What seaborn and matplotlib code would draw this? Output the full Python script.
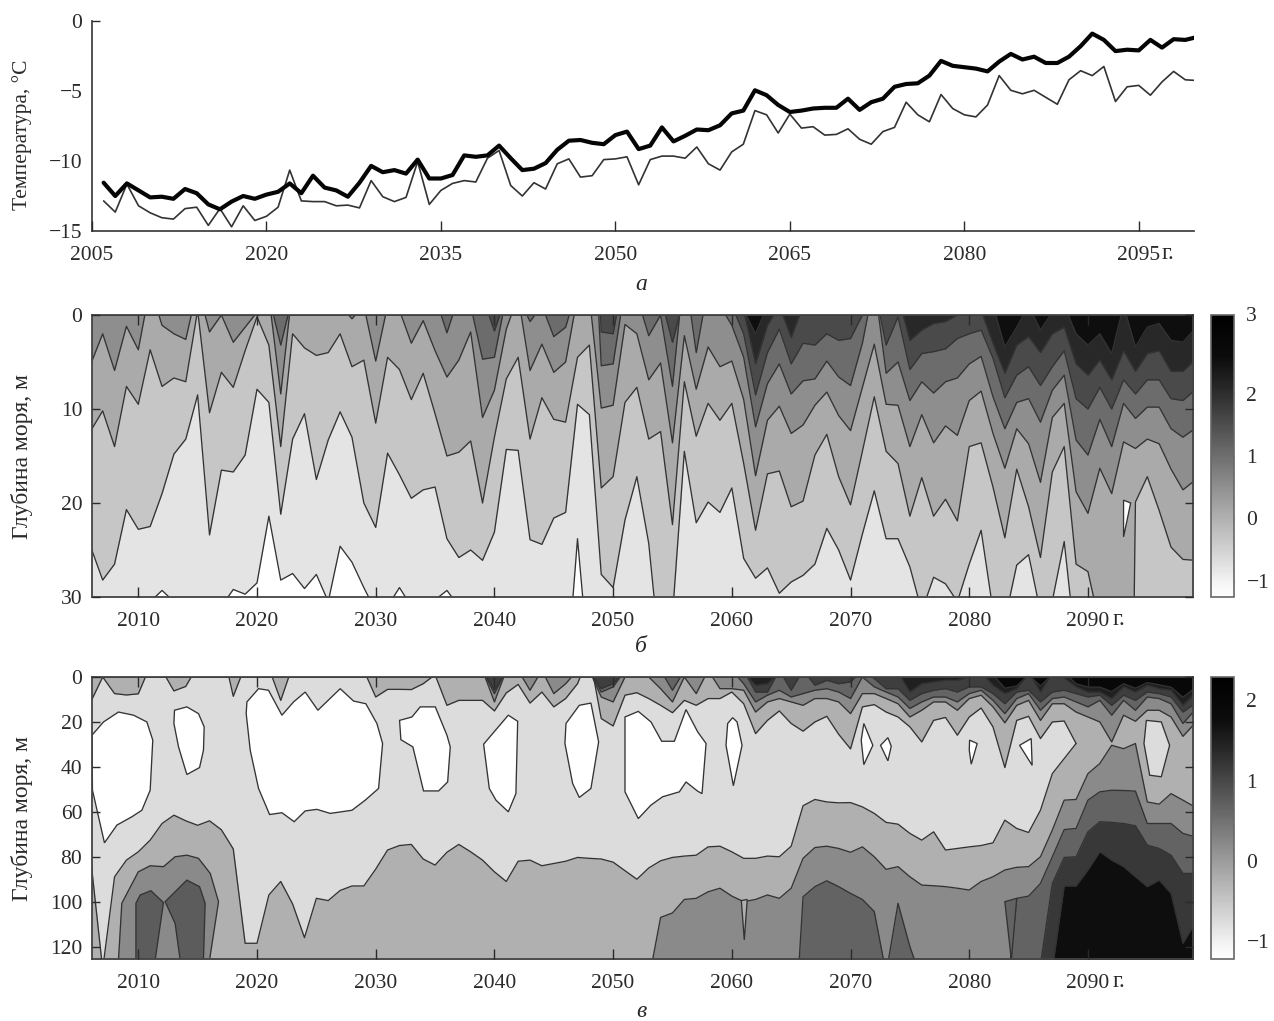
import numpy as np
import matplotlib
matplotlib.use("Agg")
import matplotlib.pyplot as plt
from matplotlib.cm import ScalarMappable
from matplotlib.colors import LinearSegmentedColormap, Normalize
import seaborn as sns

# ---------- panel a: temperature ----------
temp_years = list(range(2006, 2101))
temp_thick = [-11.55, -12.5, -11.6, -12.1,
    -12.6, -12.55, -12.7, -12.0, -12.3, -13.1, -13.45, -12.9, -12.5, -12.7,
    -12.4, -12.2, -11.6, -12.3, -11.05, -11.9, -12.1, -12.55, -11.55, -10.35,
    -10.8, -10.65, -10.9, -9.9, -11.25, -11.25, -11.0, -9.6, -9.7, -9.6,
    -8.9, -9.8, -10.65, -10.55, -10.15, -9.2, -8.55, -8.5, -8.7, -8.8,
    -8.15, -7.9, -9.15, -8.9, -7.6, -8.6, -8.2, -7.75, -7.8, -7.45,
    -6.6, -6.4, -4.95, -5.3, -6.0, -6.5, -6.4, -6.25, -6.2, -6.2,
    -5.55, -6.35, -5.8, -5.55, -4.7, -4.5, -4.45, -3.9, -2.85, -3.2,
    -3.3, -3.4, -3.6, -2.9, -2.35, -2.75, -2.55, -3.0, -3.0, -2.55,
    -1.8, -0.9, -1.35, -2.15, -2.05, -2.1, -1.35, -1.9, -1.3, -1.35, -1.15]
temp_thin = [-12.85, -13.65, -11.65, -13.2,
    -13.7, -14.05, -14.15, -13.4, -13.3, -14.6, -13.4, -14.7, -13.2, -14.25,
    -13.95, -13.3, -10.65, -12.85, -12.9, -12.9, -13.2, -13.15, -13.35, -11.4,
    -12.55, -12.9, -12.6, -10.05, -13.1, -12.1, -11.6, -11.4, -11.5, -9.8,
    -9.25, -11.75, -12.5, -11.55, -12.0, -10.2, -9.85, -11.15, -11.05, -9.9,
    -9.85, -9.7, -11.7, -9.9, -9.65, -9.65, -9.8, -9.0, -10.2, -10.65,
    -9.35, -8.8, -6.4, -6.7, -8.0, -6.65, -7.65, -7.55, -8.15, -8.1,
    -7.7, -8.45, -8.8, -7.9, -7.6, -5.8, -6.7, -7.2, -5.25, -6.25,
    -6.7, -6.85, -6.0, -3.9, -4.95, -5.2, -4.95, -5.45, -5.95, -4.2,
    -3.55, -3.9, -3.25, -5.75, -4.7, -4.6, -5.3, -4.35, -3.6, -4.2, -4.25]

# ---------- panel b: isotherm depths (m), 2006-2099 ----------
depth_years = list(range(2006, 2100))
b_l1 = [31, 31, 31, 31,
    31, 30.5, 29.3, 30.5, 31, 31, 31, 31, 29.2, 29.7,
    28.5, 21.4, 28.2, 27.5, 29.1, 27.6, 30.5, 24.6, 26.3, 29,
    31.5, 31, 29, 31, 31, 30.3, 29.3, 31, 31, 31,
    31, 31, 31, 31, 31, 31, 40, 23.8, 38, 31,
    31, 31, 31, 31, 31, 31, 31, 31, 31, 31,
    31, 31, 31, 31, 31, 31, 31, 31, 31, 31,
    31, 31, 31, 31, 31, 31, 31, 31, 31, 31,
    31, 31, 31, 31, 31, 31, 31, 31, 31, 31,
    31, 31, 31, 31, 31, 29.4, 31, 31, 31, 31]
b_l2 = [24.7, 28.2, 26.5, 20.7,
    22.8, 22.5, 19, 14.8, 13.2, 8.5, 23.4, 16.5, 16.7, 14.9,
    7.9, 9.3, 21.2, 13.2, 10.5, 17.5, 13.3, 10.3, 13, 20,
    22.6, 14.7, 17, 19.5, 18.6, 18.3, 23.8, 25.8, 25, 26.1,
    23.1, 14.3, 14.4, 23.9, 24.4, 21.6, 21, 9.5, 10.6, 27.6,
    29, 21.8, 17.2, 24.3, 37, 32, 14.5, 22.1, 19.9, 21,
    18.4, 25.9, 28, 26.9, 29.6, 28.4, 27.7, 26.5, 22.7, 25,
    28.2, 23.3, 18.7, 23.8, 23.8, 26.8, 31.5, 27.9, 28.6, 30.5,
    26.5, 22.9, 31.4, 32.5, 26.6, 25.5, 31.6, 30.4, 24.1, 35.7,
    36, 36, 36, 36, 36, 36, 36, 36, 36, 36]
b_l3 = [12.3, 10.2, 14, 7.6,
    9.5, 3.7, 7.6, 6.7, 7.1, -0.5, 10.4, 6.1, 7.7, 3.8,
    0.2, 3.2, 14, 2, 3.5, 4.3, 4, 2, 5.5, 4.8,
    11.5, 4.5, 5.8, 9, 6.2, 10.5, 15, 14.6, 13.4, 20,
    13, 6.8, 4.5, 13.2, 8.8, 11.1, 11.4, 4.5, 3.2, 18.4,
    17.2, 9.3, 7.7, 13.2, 12.4, 22.3, 7.1, 12.9, 9.4, 11.2,
    9.4, 15.8, 22.9, 16.9, 16.6, 20.4, 19.8, 14.9, 12.7, 17.2,
    20.2, 14.5, 8.7, 14.5, 15.8, 21.4, 17.3, 21.4, 19.6, 21.9,
    14, 13.6, 18.3, 23.7, 16.4, 20.4, 25.8, 16.7, 14, 26.5,
    27.3, 33, 33, 120, 19.9, 17.2, 20.8, 24.7, 26, 26.1]
b_l4 = [5.2, 2, 5.9, 1.2,
    3.7, -3, 1.1, 2, 2.6, -3, 1.8, 0, 2.9, 1.3,
    -0.3, -2, 8.4, -3, -3, -3, -3, -1, 0.4, -1,
    4.9, -1, -0.5, 3, 0.6, 3.8, 6.6, 4.8, 1.8, 10.9,
    8, 1.5, -2, 5.9, 3.1, 6.1, 5, -2, -2, 9.9,
    9.6, 1, 2, 6.9, 5.1, 13.6, 2.2, 7.9, 3.4, 5.5,
    4.9, 9, 17.1, 11.2, 9.7, 12.6, 11.7, 9.6, 8.2, 10.7,
    12.3, 7.7, 3.1, 9.5, 9.6, 14, 10.6, 13.6, 11.8, 12.8,
    9.1, 8.1, 12.6, 16.3, 12.1, 13.7, 17.8, 10.9, 9.4, 18.8,
    21.1, 16.3, 19, 13.5, 14.2, 13.2, 13.7, 16.4, 18.6, 17.6]
b_l5 = [-2] * 14 + [-2, -2, 3.2, -2, -2, -2, -2, -2, -2, -2,
    -2, -2, -2, -2, -2, -2, 1.9, -2, -1, 4.7,
    4.5, -2, -2, 0.7, -1, 2.3, 1.3, -3, -20, 5.4,
    5.2, -3, -2, 2.2, 0, 7.6, -5, 4, -3, -1,
    1.1, 4.5, 11.9, 7.3, 5.2, 8.4, 7, 6.8, 4.9, 6.6,
    7.5, 3, -3.5, 6.2, 5, 9.1, 7.1, 8.3, 7.1, 6.7,
    5.2, 4.4, 8.7, 12.1, 9.3, 8.9, 11.4, 8, 6.4, 13.3,
    14.9, 11.1, 14, 9.4, 11, 9.8, 9.8, 12.1, 13, 12.1]
b_l6 = [-2] * 34 + [1.7, -2, -2, -2, -2, -2, -2, -2, -30, 1.8,
    2, -5, -2, -2, -2, 2.9, -2, -2, -2, -2,
    -1, 2, 8.5, 4, 1.5, 5.2, 3, 3.2, 2, 2.7,
    2.5, 0, -3, 3.2, 0.2, 5.8, 4.1, 3.9, 3.6, 2.5,
    2, 1.6, 4.6, 8.8, 6.4, 5.5, 7.5, 5.5, 3.8, 8.9,
    10, 7.7, 10, 6.9, 8.4, 6.9, 6.9, 8.9, 9.1, 8]
b_l7 = [-2] * 54 + [-2, -0.5, 5.2, 1.1, -1, 2.4, -1, -2, -2, -2,
    -2, -2, -2, -2, -2, 2.7, 1.6, 0.9, 0.7, 0,
    -0.5, -0.5, 3, 6.2, 3.2, 2.3, 4, 2, 1.3, 5.2,
    6.4, 4.8, 6.9, 3.8, 6, 4.1, 3.8, 6, 6, 4.8]
b_l8 = [-2] * 54 + [-2, -0.5, 2, -1, -2, -2, -2, -2, -2, -2,
    -2, -2, -2, -2, -2, -2, -2, -2, -2, -2,
    -3, -1, -1, 3.4, 1.3, -1, 1.6, -0.3, -1, 2,
    3.2, 2, 4.1, -1, 3.4, 1.3, 0.9, 2.7, 2.9, 1.5]
b_levels = [b_l1, b_l2, b_l3, b_l4, b_l5, b_l6, b_l7, b_l8]
b_grays = ['#e4e4e4', '#c6c6c6', '#aaaaaa', '#8e8e8e', '#6c6c6c', '#4a4a4a', '#282828', '#0e0e0e']
b_isle_years = [2093, 2093.6, 2093]
b_isle_depths = [19.7, 20, 23.6]

# ---------- panel c: isotherm depths (m) ----------
c_u1_years = list(range(2006, 2090))
c_u1 = [11, 0, 7.4, 8,
    7.5, -5, -3, 6.2, 4.2, -5, -5, -15, 8.6, -5,
    -5, -4, 10.4, -5, -5, -5, -5, -5, -5, -3,
    8.9, 5.5, 5.5, 5.6, 3, -1, 12.6, 10.4, 10.4, 10.4,
    15.1, 7.1, 3.3, 11.6, 6.7, 13.3, 9.6, 3, -10, 18.5,
    21.8, 8.1, 7, 9.6, 12.6, 15.9, 10.4, 12.6, 9.6, 9.6,
    6.7, 11.9, 25.2, 19.3, 15.1, 20.7, 24.1, 20, 17.5, 25.5,
    32, 13.3, 12.3, 15.6, 17.8, 22.2, 28.9, 19.3, 18, 25.9,
    17.8, 13.8, 22.2, 40.3, 19.3, 17.5, 27.4, 20, 19.6, 29.6]
c_b1 = [81.5, 130, 88.9, 81.5,
    77.8, 72.6, 65.2, 61.5, 64, 66, 64, 68, 76.5, 118.5,
    118.5, 97, 91, 101, 116, 98.5, 99.5, 95, 93, 93,
    85.5, 77, 75, 74.5, 81, 83.7, 78, 74.5, 77.8, 81.5,
    86.7, 91, 82, 81.5, 84, 83, 82, 80.3, 80.7, 81,
    82.4, 86.2, 90, 85, 81.8, 80.3, 79.7, 79.3, 75.6, 75.3,
    77.8, 80.7, 80.7, 79.7, 80, 75.3, 57.3, 54.5, 55.6, 56,
    55.9, 57.8, 60.7, 64.7, 65.5, 69.6, 72.6, 68.9, 77, 76.3,
    75.6, 75, 73.8, 63.7, 67.4, 69.2, 59.3, 43, 36.3, 29.6]
c_u2 = [-3] * 34 + [11.1, -3, -3, 5.9, -3, 7.4, 3, -3, -3, 8.9,
    11.1, 0, -3, 0, 5.2, 11.1, 0, 7.4, -3, 5.2,
    5.2, 5.9, 15.6, 11.1, 9.6, 11.1, 12.6, 9.6, 9.6, 11.1,
    16.3, 7.4, 7.4, 9.6, 11.9, 17.8, 14.8, 11.1, 11.1, 14.8,
    9.6, 8.1, 13.3, 20.4, 12.6, 10.4, 19.3, 11.9, 11.9, 15.6,
    17.8, 20, 28.9, 17, 19.7, 14.8, 14.8, 17.8, 26.4, 20.7]
c_u3 = [-3] * 34 + [7.4, -3, -3, -3, -3, -3, -3, -3, -3, 6.7,
    4.4, -3, -3, -3, -3, 5.9, -3, -3, -3, -3,
    -3, 3, 11.1, 8.1, 5.9, 8.9, 7.4, 5.9, 5.2, 6.7,
    9.6, 0, 4.4, 6.7, 8.9, 14, 11.1, 8.9, 8.9, 11.1,
    7.4, 5.9, 10.4, 16.3, 9.6, 7.4, 14.8, 9.6, 8.9, 11.1,
    13.3, 10.4, 17, 10.4, 14.8, 8.9, 9.6, 11.9, 20.7, 14.8]
c_u4 = [-3] * 34 + [5.9, -3, -3, -3, -3, -3, -3, -3, -3, 5.2,
    3, -3, -3, -3, -3, -3, -3, -3, -3, -3,
    -3, -3, 6.7, 6.7, -3, 5.9, -3, 3.7, 1.5, 3,
    2.2, -3, 0.7, 5.2, 5.2, 10.4, 7.4, 5.9, 5.2, 6.7,
    4.4, 4.4, 7.4, 11.9, 6.7, 5.9, 11.1, 6.7, 5.9, 7.4,
    8.9, 8.1, 12.6, 8.1, 10.4, 6.7, 7.4, 8.9, 15.6, 11.9]
c_u5 = [-2] * 54 + [-2, -2, 3.7, 3, -2, -2, -2, -2, -2, -2,
    -2, -2, -2, -2, -2, 6.7, 3, 2.2, 1.5, 1.5,
    0, -2, 3.7, 7.4, 5.2, -2, 6.7, -2, 0.5, 4.4,
    6.7, 6.7, 9.6, 4.4, 6.7, 3.7, 5.2, 5.9, 12.6, 7.4]
c_u6 = [-2] * 74 + [-2, -2, -1, 5, 4, -1, 4, -1, -2, 3,
    4.5, 4.5, 6.5, 3, 5, 2.5, 3.5, 4.5, 9, 5]
c_b2 = [135] * 48 + [107, 105, 99, 98.5, 95.6, 94,
    97.5, 100, 99, 97, 98.5, 94, 80.7, 75.9, 75.3, 76.3,
    78, 75.6, 80, 85.6, 84.4, 88.9, 92.6, 92.9, 93.3, 94,
    94.8, 91, 88.9, 85.9, 84.7, 84.4, 80, 68.1, 54.8, 54.5,
    43, 38.5, 30.4, 31.9, 29.6, 55.6, 56.6, 51.9, 54.8, 57.8]
c_b3 = [150] * 59 + [185, 97.8, 93.3, 90.7, 93.3,
    96.3, 99, 104.4, 132, 100.7, 120, 135, 150, 150, 150,
    150, 150, 150, 150, 98.5, 97.5, 91.9, 80, 67.9, 67.4,
    54.8, 51.1, 50.4, 50.5, 50.8, 65.2, 65.2, 65.2, 69.6, 71.1]
c_b4 = [150] * 80 + [128, 91.9, 80.3, 80,
    68.9, 64.4, 64.7, 65.2, 66.2, 74.8, 76.3, 79.3, 87.4, 87.4]
c_b5 = [150] * 81 + [130, 93, 93,
    85.9, 77.8, 81.5, 84.4, 88.9, 93.3, 90.4, 96.3, 118.5, 109.6]

c_gray_mid = '#dcdcdc'
c_gray_1 = '#b0b0b0'
c_upper = [c_u2, c_u3, c_u4, c_u5, c_u6]
c_upper_grays = ['#8a8a8a', '#646464', '#3e3e3e', '#202020', '#080808']
c_lower = [c_b2, c_b3, c_b4, c_b5]
c_lower_grays = ['#8a8a8a', '#636363', '#383838', '#0e0e0e']

# closed isotherm loops: (years, depths, gray)
dome_b = ([2008.33, 2008.61, 2010, 2011, 2012.12, 2013.1, 2014.1, 2015.07, 2016.06, 2016.76, 2016],
          [126, 100.7, 86.7, 84, 84.4, 80, 79.3, 80.7, 87.4, 100, 126], '#8a8a8a')
dome_c1 = ([2009.8, 2009.8, 2010.16, 2011.06, 2012.12, 2011.42],
           [126, 100.7, 97, 95.1, 100.4, 126], '#5c5c5c')
dome_c2 = ([2013.53, 2013.1, 2012.26, 2014.09, 2015.16, 2015.63, 2015.49],
           [126, 109.6, 100, 90.4, 93.3, 100.7, 126], '#5c5c5c')
wedge_b3 = ([2083, 2084, 2083.55], [100, 98.5, 126], '#636363')
sliver_b2 = ([2060.8, 2061.05, 2061.3], [99.5, 117, 99], '#b0b0b0')
isles = [
    ([2006.1, 2007.07, 2008.33, 2009.6, 2010.72, 2011.22, 2011, 2010.3, 2009.46, 2008.2, 2007.15, 2006.14],
     [25.9, 20, 15.6, 17, 20, 28.1, 50.4, 59.3, 62.2, 65.9, 73.8, 50.4]),
    ([2013.05, 2014.09, 2015.07, 2015.55, 2015.49, 2015.16, 2014.09, 2013.39, 2013],
     [14.8, 13.3, 16.3, 22.2, 32.6, 40.3, 43.4, 31.1, 20.7]),
    ([2019.15, 2020.13, 2020.97, 2022.1, 2023.08, 2024.06, 2025.13, 2027.01, 2028.13, 2029.17, 2030.1, 2030.58,
      2030.24, 2029.12, 2028, 2026.17, 2025.04, 2024.06, 2023.13, 2022.1, 2021.06, 2020.13, 2019.43, 2019.09],
     [11.1, 5.2, 5.9, 17, 11.1, 6.7, 14.8, 5.2, 10.7, 11.9, 20.7, 29.6,
      49.6, 54.8, 59.3, 60.7, 58.9, 59.6, 64.4, 60.4, 61.2, 49.6, 32.6, 16.3]),
    ([2032.01, 2033.05, 2033.75, 2035.02, 2036, 2036.28, 2036.06, 2035.3, 2034.03, 2033.13, 2032.12],
     [19.3, 17.8, 13.3, 13.3, 25.9, 31.1, 46.7, 50.7, 50.7, 31.1, 27.9]),
    ([2041.17, 2041.96, 2041.81, 2041.17, 2040.13, 2039.57, 2039.09],
     [17, 19.7, 51.9, 60, 54.8, 49.6, 29.9]),
    ([2047.15, 2048.13, 2048.78, 2048.13, 2047.15, 2046.59, 2045.94, 2046.03],
     [12.6, 11.6, 28.9, 49.6, 53.6, 47.4, 29.6, 20.7]),
    ([2051, 2052.12, 2053.19, 2054.09, 2055.16, 2056.14, 2057.12, 2057.83, 2057.49, 2057.12, 2056.14, 2055.58,
      2054.17, 2053.19, 2052.12, 2051],
     [17.8, 15.3, 20, 28.6, 28.6, 14.5, 24.4, 29.6, 51.9, 50.8, 46.7, 51.1, 53.3, 57, 63, 51.1]),
    ([2060.07, 2060.44, 2060.86, 2060.13, 2059.51, 2059.65], [18.1, 20, 30.4, 48.4, 30.4, 20.7]),
    ([2071.12, 2071.88, 2071.12, 2070.9], [20.7, 30.4, 39, 28.1]),
    ([2073.15, 2073.43, 2073.15, 2072.53], [27, 30.8, 37.3, 30.4]),
    ([2080.03, 2080.67, 2080.17, 2080], [28.1, 29.6, 38.8, 32.6]),
    ([2084.24, 2085.22, 2085.3], [30.4, 27.4, 39.3]),
]
isle_mid = ([2094.92, 2096.18, 2096.88, 2096.18, 2095.2, 2094.72], [19.3, 20, 30.4, 44.4, 43.7, 29.6])

ink = '#2a2a2a'
edge = '#333333'

sns.set_theme(style="ticks")
plt.rcParams['font.family'] = ['Liberation Serif', 'DejaVu Serif']
plt.rcParams['axes.unicode_minus'] = True
W, H = 1274, 1021
fig = plt.figure(figsize=(W / 100, H / 100), dpi=100)


def axes_px(l, t, r, b):
    return fig.add_axes([l / W, 1 - b / H, (r - l) / W, (b - t) / H])


FS = 15.5
z = [1.0]


def nextz():
    z[0] += 0.005
    return z[0]


def contour_line(ax, years, depths):
    sns.lineplot(x=years, y=depths, ax=ax, color=edge, linewidth=0.95, estimator=None,
                 sort=False, errorbar=None, legend=False, zorder=nextz())


def upper_band(ax, years, depths, gray):
    ax.fill_between(years, 0, depths, color=gray, linewidth=0, zorder=nextz())
    contour_line(ax, years, depths)


def lower_band(ax, years, depths, gray):
    ax.fill_between(years, depths, 300, color=gray, linewidth=0, zorder=nextz())
    contour_line(ax, years, depths)


def loop(ax, xs, ys, gray):
    ax.fill(xs, ys, facecolor=gray, edgecolor=edge, linewidth=0.95, zorder=nextz())


def style_panel(ax, ticks_y, ylabel, label_y, label_fs, xt, xlab, unit_gap, top_right=True, xlim=None, ylim=None):
    ax.set_xlim(*xlim)
    ax.set_ylim(*ylim)
    ax.set_xticks(xt)
    ax.set_xticklabels(xlab, fontsize=FS, color=ink)
    ax.set_yticks(ticks_y[0])
    ax.set_yticklabels(ticks_y[1], fontsize=FS, color=ink)
    ax.set_axisbelow(False)
    ax.tick_params(axis='x', direction='in', length=7.2, width=1.0, color=ink, pad=10.5,
                   top=top_right)
    ax.tick_params(axis='y', direction='in', length=6, width=1.0, color=ink, pad=7,
                   right=top_right)
    ax.set_ylabel(ylabel, fontsize=label_fs, color=ink, labelpad=0)
    ax.yaxis.set_label_coords(-0.054, label_y)
    ax.set_xlabel('')
    for s in ax.spines.values():
        s.set_linewidth(1.3)
        s.set_color('#444444')
    ax.annotate('г.', xy=(xt[-1], 0), xycoords=('data', 'axes fraction'), xytext=(unit_gap, -20.5),
                textcoords='offset points', fontsize=FS + 1.5, color=ink, ha='left', va='baseline')


# ---------- panel a ----------
ax_a = axes_px(92, 21, 1194, 231)
sns.lineplot(x=temp_years, y=temp_thin, ax=ax_a, color='#333333', linewidth=1.2,
             estimator=None, errorbar=None, legend=False)
sns.lineplot(x=temp_years, y=temp_thick, ax=ax_a, color='#050505', linewidth=3.0,
             estimator=None, errorbar=None, legend=False)
style_panel(ax_a, ([0, -5, -10, -15], ['0', '−5', '−10', '−15']), 'Температура, °С', 0.46, FS,
            [2005, 2020, 2035, 2050, 2065, 2080, 2095],
            ['2005', '2020', '2035', '2050', '2065', '2080', '2095'], 16.5, top_right=False,
            xlim=(2005, 2099.75), ylim=(-15, 0))
sns.despine(ax=ax_a)
for i, t in enumerate(ax_a.yaxis.get_major_ticks()):
    if i > 0:
        t.tick1line.set_visible(False)

# ---------- panel b ----------
ax_b = axes_px(92, 315, 1193, 597)
for vals, gray in zip(b_levels, b_grays):
    upper_band(ax_b, depth_years, vals, gray)
loop(ax_b, b_isle_years, b_isle_depths, '#ffffff')
decade_ticks = [2010, 2020, 2030, 2040, 2050, 2060, 2070, 2080, 2090]
decade_labels = ['2010', '2020', '2030', '2040', '2050', '2060', '2070', '2080', '2090']
style_panel(ax_b, ([0, 10, 20, 30], ['0', '10', '20', '30']), 'Глубина моря, м', 0.50, 17,
            decade_ticks, decade_labels, 18, xlim=(2006.1, 2098.85), ylim=(30, 0))

# ---------- panel c ----------
ax_c = axes_px(92, 677, 1193, 959)
ax_c.set_facecolor(c_gray_mid)
ax_c.fill_between([c_u1_years[-1], depth_years[-1]], 0, 300, color=c_gray_1, linewidth=0, zorder=nextz())
upper_band(ax_c, c_u1_years, c_u1, c_gray_1)
lower_band(ax_c, c_u1_years, c_b1, c_gray_1)
for vals, gray in zip(c_lower, c_lower_grays):
    lower_band(ax_c, depth_years, vals, gray)
for xs, ys, gray in (sliver_b2, wedge_b3, dome_b, dome_c1, dome_c2):
    loop(ax_c, xs, ys, gray)
for vals, gray in zip(c_upper, c_upper_grays):
    upper_band(ax_c, depth_years, vals, gray)
for xs, ys in isles:
    loop(ax_c, xs, ys, '#ffffff')
loop(ax_c, isle_mid[0], isle_mid[1], c_gray_mid)
style_panel(ax_c, ([0, 20, 40, 60, 80, 100, 120], ['0', '20', '40', '60', '80', '100', '120']),
            'Глубина моря, м', 0.50, 17, decade_ticks, decade_labels, 18,
            xlim=(2006.1, 2098.85), ylim=(125.5, 0))

# ---------- colour bars ----------
bar_cmap = LinearSegmentedColormap.from_list('bar', [
    (0.0, '#ffffff'), (0.05, '#f4f4f4'), (0.28, '#b0b0b0'), (0.5, '#6e6e6e'),
    (0.72, '#2e2e2e'), (0.85, '#0c0c0c'), (1.0, '#000000')])


def colour_bar(top, bottom, vmin, vmax, ticks, labels, extra=None):
    cax = axes_px(1211, top, 1234, bottom)
    cb = fig.colorbar(ScalarMappable(Normalize(vmin, vmax), bar_cmap), cax=cax)
    cb.set_ticks(ticks)
    cb.set_ticklabels(labels, fontsize=FS, color=ink)
    cax.tick_params(axis='y', direction='in', length=3.5, width=0.9, color='#333333', pad=9,
                    left=True, right=True)
    cb.outline.set_edgecolor('#666666')
    cb.outline.set_linewidth(1.2)
    if extra:
        cax.text(1.52, 0.995, extra, transform=cax.transAxes, fontsize=FS, color=ink,
                 ha='left', va='center')


colour_bar(315, 597, -1.26, 3.26, [-1, 0, 1, 2], ['−1', '0', '1', '2'], extra='3')
colour_bar(677, 959, -1.22, 2.29, [-1, 0, 1, 2], ['−1', '0', '1', '2'])

# ---------- captions ----------
for cap, py in (('а', 285), ('б', 647), ('в', 1011)):
    fig.text(641 / W, 1 - py / H, cap, fontsize=17, style='italic', color=ink, ha='center', va='center')

fig.savefig('out.png', dpi=100)
